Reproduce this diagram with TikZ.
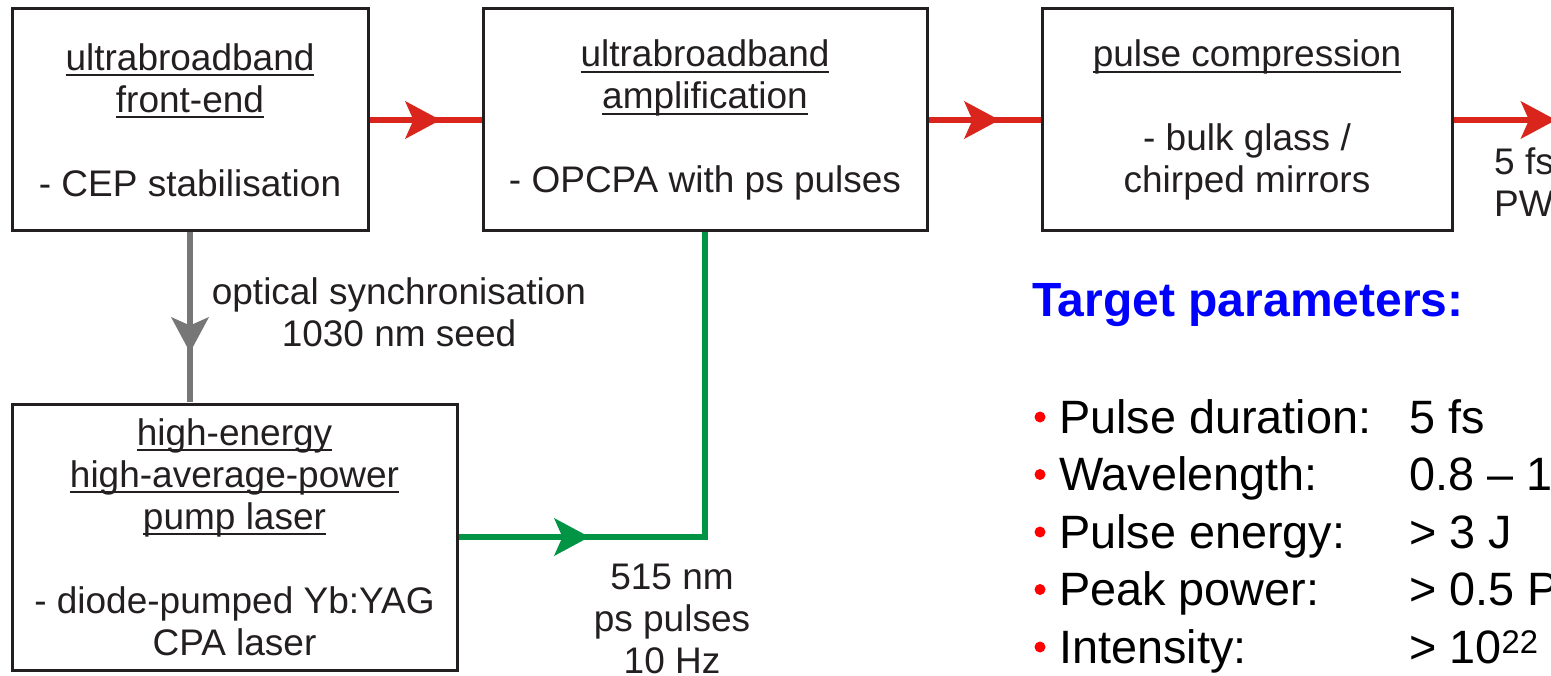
\documentclass[tikz,border=0pt]{standalone}
\usepackage{fontspec}
\setmainfont{Liberation Sans}
\usepackage{tikz}
\usetikzlibrary{arrows.meta}
\usetikzlibrary{decorations.markings}

\definecolor{beamred}{HTML}{DA251D}
\definecolor{pumpgreen}{HTML}{009444}
\definecolor{seedgray}{HTML}{777777}
\definecolor{ink}{HTML}{231F20}
\definecolor{titleblue}{HTML}{0000FF}
\definecolor{dotred}{HTML}{FF0000}

% underline at a fixed depth, so descenders cut through it
\newsavebox\undlbox
\newcommand\undl[1]{\sbox\undlbox{#1}\rlap{\rule[-6pt]{\wd\undlbox}{2pt}}\usebox\undlbox}

\tikzset{
  stage/.style={draw=ink, line width=3pt, align=center, inner sep=0pt, text=ink,
    font=\fontsize{37pt}{42pt}\selectfont},
  note/.style={align=center, inner sep=0pt, text=ink, font=\fontsize{37pt}{42pt}\selectfont},
  param/.style={inner sep=0pt, text=black, font=\fontsize{46.8pt}{50pt}\selectfont},
  beam/.style={line width=6pt},
  midarrow/.style={postaction={decorate}, decoration={markings,
    mark=at position #1 with {\arrow{Stealth[length=35pt, width=37pt, inset=8pt]}}}},
}

\begin{document}
\begin{tikzpicture}[x=1pt, y=-1pt]
    \useasboundingbox (0,0) rectangle (1551,676);
    \clip (0,0) rectangle (1551,676);

    % stages
    \node[stage, minimum width=356pt, minimum height=222pt] (front) at (190,120)
        {\undl{ultrabroadband}\\\undl{front-end}\\[42pt]- CEP stabilisation};
    \node[stage, minimum width=444pt, minimum height=222pt] (amp) at (705,120)
        {\undl{ultrabroadband}\\\undl{amplification}\\[42pt]- OPCPA with ps pulses};
    \node[stage, minimum width=410pt, minimum height=222pt] (comp) at (1247,120)
        {\undl{pulse compression}\\[42pt]- bulk glass /\\chirped mirrors};
    \node[stage, minimum width=445pt, minimum height=266pt] (pump) at (234.5,537)
        {\undl{high-energy}\\\undl{high-average-power}\\\undl{pump laser}\\[42pt]- diode-pumped Yb:YAG\\CPA laser};
    \coordinate (out) at (1556,120);

    % beams
    \draw[beam, beamred, midarrow=71pt] (front) -- (amp);
    \draw[beam, beamred, midarrow=71pt] (amp) -- (comp);
    \draw[beam, beamred, -{Stealth[length=35pt, width=37pt, inset=8pt]}] (comp) -- (out);
    \draw[beam, seedgray, midarrow=120pt] (front.south) -- (front.south |- pump.north);
    \draw[beam, pumpgreen, midarrow=131pt] (pump.east) -| (amp.south);

    % beam labels
    \node[note] (seed) at (399,312) {optical synchronisation\\1030 nm seed};
    \node[note] (green) at (672,619) {515 nm\\ps pulses\\10 Hz};
    \node[note, align=left, anchor=north west] (output) at (1494,148) {5 fs\\PW};

    % target parameters
    \node[anchor=base west, inner sep=0pt, text=titleblue,
        font=\bfseries\fontsize{48pt}{50pt}\selectfont] (title) at (1032,317) {Target parameters:};
    \foreach \key/\val [count=\i from 0] in {Pulse duration:/5 fs, Wavelength:/0.8 -- 1,
        Pulse energy:/> 3 J, Peak power:/> 0.5 P, Intensity:/> 10\textsuperscript{22}} {
        \fill[dotred] (1040,417+57.5*\i) circle (5.5pt);
        \node[param, anchor=base west] (key\i) at (1059,433+57.5*\i) {\key};
        \node[param, anchor=base west] (val\i) at (1409,433+57.5*\i) {\val};
    }
\end{tikzpicture}
\end{document}
